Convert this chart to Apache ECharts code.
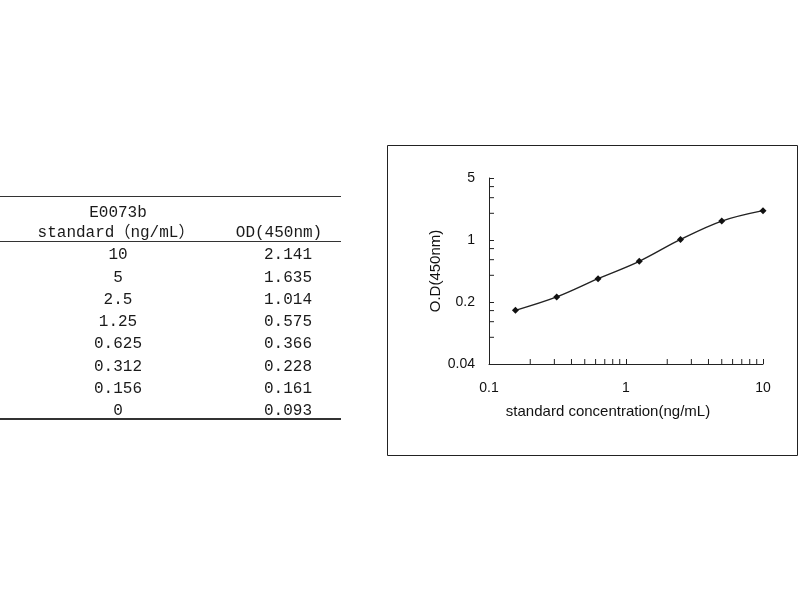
<!DOCTYPE html>
<html>
<head>
<meta charset="utf-8">
<script src="https://cdn.jsdelivr.net/npm/echarts@6/dist/echarts.min.js"></script>
<style>
html,body{margin:0;padding:0;background:#fff;}
#main{width:800px;height:600px;}
</style>
</head>
<body>
<div id="main"></div>
<script>
// ---- data ----
const tableTitle = 'E0073b';
const colHeader1 = 'standard（ng/mL）';
const colHeader2 = 'OD(450nm)';
const concentrations = [10, 5, 2.5, 1.25, 0.625, 0.312, 0.156, 0];
const concLabels = ['10', '5', '2.5', '1.25', '0.625', '0.312', '0.156', '0'];
const odValues = [2.141, 1.635, 1.014, 0.575, 0.366, 0.228, 0.161, 0.093];
const odLabels = ['2.141', '1.635', '1.014', '0.575', '0.366', '0.228', '0.161', '0.093'];
const xAxisName = 'standard concentration(ng/mL)';
const yAxisName = 'O.D(450nm)';
const xMinorTicks = [0.2, 0.3, 0.4, 0.5, 0.6, 0.7, 0.8, 0.9, 2, 3, 4, 5, 6, 7, 8, 9];
const yMinorTicks = [0.08, 0.12, 0.16, 0.4, 0.6, 0.8, 2, 3, 4];

// ---- build ----
const curve = [];
concentrations.forEach((c, i) => { if (c > 0) curve.push([c, odValues[i]]); });
curve.sort((a, b) => a[0] - b[0]);

const tickData = [];
xMinorTicks.forEach(v => tickData.push([v, 0.04, 0]));
yMinorTicks.forEach(v => tickData.push([0.1, v, 1]));

const tFont = '16px "Liberation Mono", "Noto Sans CJK SC", monospace';
const tColor = '#1a1a1a';
const graphics = [];
function txt(text, x, y) {
  graphics.push({type: 'text', x: x, y: y, silent: true,
    style: {text: text, font: tFont, fill: tColor, textAlign: 'center', textVerticalAlign: 'middle'}});
}
function hline(y, w) {
  graphics.push({type: 'line', silent: true, shape: {x1: 0, y1: y, x2: 341, y2: y},
    style: {stroke: '#333', lineWidth: w}});
}
hline(196.5, 1);
hline(241.5, 1);
hline(419, 2);
txt(tableTitle, 118, 213);
txt(colHeader1, 116, 233);
txt(colHeader2, 279, 233);
concLabels.forEach((s, i) => {
  const y = 255 + i * 22.3;
  txt(s, 118, y);
  txt(odLabels[i], 288, y);
});
graphics.push({type: 'rect', silent: true, shape: {x: 387.5, y: 145.5, width: 410, height: 310},
  style: {stroke: '#222', fill: 'none', lineWidth: 1}});

const chart = echarts.init(document.getElementById('main'));
const aFont = 'Liberation Sans';
chart.setOption({
  backgroundColor: '#fff',
  animation: false,
  graphic: graphics,
  grid: {left: 489, top: 178, width: 274, height: 186},
  xAxis: {
    type: 'log', logBase: 10, min: 0.1, max: 10,
    name: xAxisName, nameLocation: 'middle', nameGap: 40,
    nameTextStyle: {fontFamily: aFont, fontSize: 15, color: '#111', padding: [0, 36, 0, 0]},
    axisLine: {show: true, onZero: false, lineStyle: {color: '#222', width: 1}},
    axisTick: {show: true, inside: true, length: 5, lineStyle: {color: '#222'}},
    axisLabel: {fontFamily: aFont, fontSize: 14, color: '#111', margin: 17,
      formatter: v => String(+(+v).toPrecision(4))},
    splitLine: {show: false}
  },
  yAxis: {
    type: 'log', logBase: 5, min: 0.04, max: 5,
    name: yAxisName, nameLocation: 'middle', nameGap: 43,
    nameTextStyle: {fontFamily: aFont, fontSize: 15, color: '#111'},
    axisLine: {show: true, onZero: false, lineStyle: {color: '#222', width: 1}},
    axisTick: {show: true, inside: true, length: 5, lineStyle: {color: '#222'}},
    axisLabel: {fontFamily: aFont, fontSize: 14, color: '#111', margin: 14,
      formatter: v => String(+(+v).toPrecision(4))},
    splitLine: {show: false}
  },
  series: [
    {
      type: 'line', data: curve, smooth: 0.35,
      symbol: 'diamond', symbolSize: 7, showSymbol: true,
      itemStyle: {color: '#111'},
      lineStyle: {color: '#222', width: 1.4},
      silent: true
    },
    {
      type: 'custom', data: tickData, silent: true, clip: false,
      encode: {x: 0, y: 1},
      renderItem: function (params, api) {
        const p = api.coord([api.value(0), api.value(1)]);
        const kind = api.value(2);
        const shape = kind === 0
          ? {x1: p[0], y1: p[1], x2: p[0], y2: p[1] - 5}
          : {x1: p[0], y1: p[1], x2: p[0] + 5, y2: p[1]};
        return {type: 'line', shape: shape, style: {stroke: '#222', lineWidth: 1}};
      }
    }
  ]
});
</script>
</body>
</html>
